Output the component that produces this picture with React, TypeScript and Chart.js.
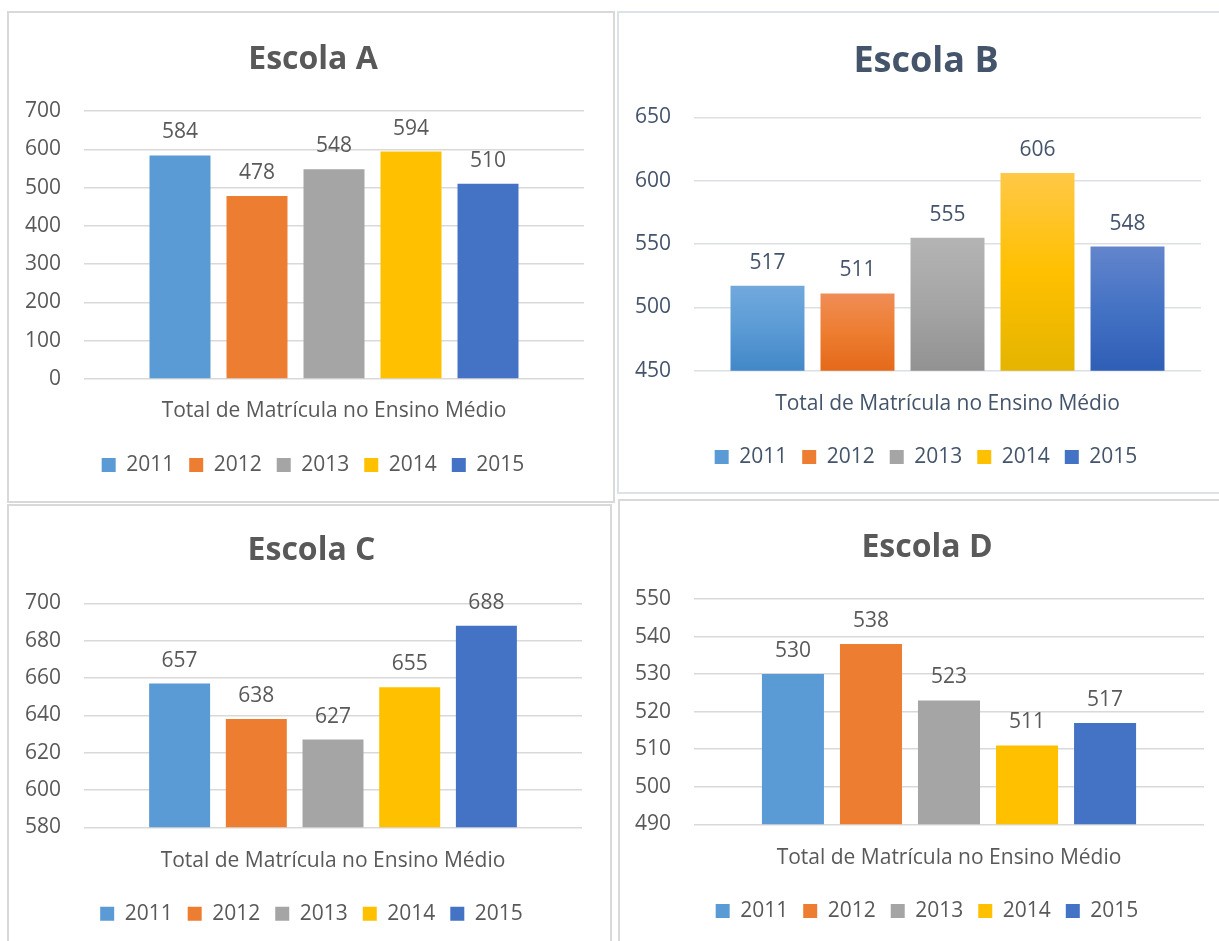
import React, { useEffect, useRef } from 'react';
import { Chart, registerables } from 'chart.js';

Chart.register(...registerables);

// ---------- data ----------
const years = ['2011', '2012', '2013', '2014', '2015'];
const categoryLabels = ['Total de Matrícula no Ensino Médio'];
const escolaA = [584, 478, 548, 594, 510];
const escolaB = [517, 511, 555, 606, 548];
const escolaC = [657, 638, 627, 655, 688];
const escolaD = [530, 538, 523, 511, 517];
const titles = ['Escola A', 'Escola B', 'Escola C', 'Escola D'];
const axisA = { min: 0, max: 700, step: 100 };
const axisB = { min: 450, max: 650, step: 50 };
const axisC = { min: 580, max: 700, step: 20 };
const axisD = { min: 490, max: 550, step: 10 };

// ---------- styles ----------
const solidColors = ['#5B9BD5', '#ED7D31', '#A5A5A5', '#FFC000', '#4472C4'];
const gradTopColors = ['#71A9DD', '#F08D56', '#B4B4B4', '#FFC847', '#6385CC'];
const gradBottomColors = ['#4287C8', '#E5691A', '#929292', '#E4B400', '#2F5EB6'];
const FONT = "'Open Sans', 'Liberation Sans', sans-serif";

type Spec = {
  left: number; top: number; width: number; height: number; borderColor: string;
  title: string; titleSize: number; titlePadTop: number; titlePadBottom: number;
  textColor: string; gridColor: string; values: number[];
  axis: { min: number; max: number; step: number };
  yAxisWidth: number; rightAxisWidth: number; padL: number; padR: number; padBottom: number;
  xAxisHeight: number; xTickPadding: number; cp: number; bp: number; gradient: boolean;
};

const specs: Spec[] = [
  {
    left: 7, top: 11, width: 608, height: 492, borderColor: '#d9d9d9',
    title: titles[0], titleSize: 32, titlePadTop: 27.6, titlePadBottom: 32,
    textColor: '#595959', gridColor: '#d9d9d9', values: escolaA, axis: axisA,
    yAxisWidth: 63, rightAxisWidth: 21, padL: 12, padR: 8, padBottom: 15.5,
    xAxisHeight: 60.5, xTickPadding: 19.4, cp: 0.77, bp: 0.792, gradient: false,
  },
  {
    left: 617, top: 11, width: 618, height: 483, borderColor: '#dde2e8',
    title: titles[1], titleSize: 36, titlePadTop: 27.4, titlePadBottom: 33.7,
    textColor: '#44546A', gridColor: '#dbe0e7', values: escolaB, axis: axisB,
    yAxisWidth: 65, rightAxisWidth: 22, padL: 10, padR: 10, padBottom: 14.5,
    xAxisHeight: 60.8, xTickPadding: 20.7, cp: 0.8876, bp: 0.822, gradient: true,
  },
  {
    left: 7, top: 504, width: 605, height: 460, borderColor: '#d9d9d9',
    title: titles[2], titleSize: 32, titlePadTop: 25.3, titlePadBottom: 33.6,
    textColor: '#595959', gridColor: '#d9d9d9', values: escolaC, axis: axisC,
    yAxisWidth: 63, rightAxisWidth: 20, padL: 12, padR: 8, padBottom: 27.8,
    xAxisHeight: 60.9, xTickPadding: 21.1, cp: 0.77, bp: 0.795, gradient: false,
  },
  {
    left: 618, top: 499, width: 618, height: 460, borderColor: '#d9d9d9',
    title: titles[3], titleSize: 32, titlePadTop: 27.3, titlePadBottom: 32.3,
    textColor: '#595959', gridColor: '#d9d9d9', values: escolaD, axis: axisD,
    yAxisWidth: 64, rightAxisWidth: 20, padL: 10, padR: 10, padBottom: 25.5,
    xAxisHeight: 61.2, xTickPadding: 21.1, cp: 0.765, bp: 0.795, gradient: false,
  },
];

const valueLabels = {
  id: 'valueLabels',
  afterDatasetsDraw(chart: any, _args: any, opts: any) {
    const ctx = chart.ctx;
    ctx.save();
    ctx.font = `21px ${FONT}`;
    ctx.fillStyle = opts.color;
    ctx.textAlign = 'center';
    ctx.textBaseline = 'middle';
    chart.data.datasets.forEach((ds: any, i: number) => {
      const meta = chart.getDatasetMeta(i);
      meta.data.forEach((el: any, j: number) => {
        ctx.fillText(String(ds.data[j]), el.x, el.y - opts.offset);
      });
    });
    ctx.restore();
  },
};

function ChartPanel({ spec }: { spec: Spec }) {
  const ref = useRef<HTMLCanvasElement | null>(null);
  const cw = spec.width - 4;
  const ch = spec.height - 4;

  useEffect(() => {
    if (!ref.current) return;
    const datasets = years.map((yr, i) => ({
      label: yr,
      data: [spec.values[i]],
      borderWidth: 0,
      backgroundColor: spec.gradient
        ? (c: any) => {
            const chart = c.chart;
            const y = chart.scales && chart.scales.y;
            if (!chart.chartArea || !y || c.raw == null) return solidColors[i];
            const top = y.getPixelForValue(c.raw);
            const bottom = y.getPixelForValue(y.min);
            if (!isFinite(top) || !isFinite(bottom) || bottom - top < 1) return solidColors[i];
            const g = chart.ctx.createLinearGradient(0, top, 0, bottom);
            g.addColorStop(0, gradTopColors[i]);
            g.addColorStop(0.5, solidColors[i]);
            g.addColorStop(1, gradBottomColors[i]);
            return g;
          }
        : solidColors[i],
    }));

    const chart = new Chart(ref.current, {
      type: 'bar',
      data: { labels: categoryLabels, datasets },
      plugins: [valueLabels],
      options: {
        responsive: false,
        animation: false,
        font: { family: FONT },
        categoryPercentage: spec.cp,
        barPercentage: spec.bp,
        layout: { padding: { top: 0, left: spec.padL, right: spec.padR, bottom: spec.padBottom } },
        plugins: {
          title: {
            display: true,
            text: spec.title,
            color: spec.textColor,
            font: { family: FONT, size: spec.titleSize, weight: 'bold' },
            padding: { top: spec.titlePadTop, bottom: spec.titlePadBottom },
          },
          legend: {
            display: true,
            position: 'bottom',
            labels: {
              boxWidth: 14,
              boxHeight: 14,
              padding: 15,
              color: spec.textColor,
              font: { family: FONT, size: 21 },
              generateLabels: (c: any) => {
                const items = Chart.defaults.plugins.legend.labels.generateLabels(c);
                return items.map((it: any, k: number) => ({
                  ...it,
                  fillStyle: solidColors[k],
                  strokeStyle: solidColors[k],
                  lineWidth: 0,
                }));
              },
            },
          },
          tooltip: { enabled: false },
          valueLabels: { color: spec.textColor, offset: 23 },
        } as any,
        scales: {
          x: {
            type: 'category',
            grid: { display: false, drawTicks: false },
            border: { display: false },
            ticks: {
              color: spec.textColor,
              font: { family: FONT, size: 21 },
              padding: spec.xTickPadding,
              maxRotation: 0,
              autoSkip: false,
            },
            afterFit: (s: any) => { s.height = spec.xAxisHeight; },
          },
          y: {
            type: 'linear',
            position: 'left',
            min: spec.axis.min,
            max: spec.axis.max,
            grid: { color: spec.gridColor, lineWidth: 1.5, drawTicks: false },
            border: { display: false },
            ticks: {
              stepSize: spec.axis.step,
              color: spec.textColor,
              font: { family: FONT, size: 21 },
              padding: 23,
            },
            afterFit: (s: any) => { s.width = spec.yAxisWidth; },
          },
          yRight: {
            type: 'linear',
            position: 'right',
            display: true,
            grid: { display: false, drawTicks: false },
            border: { display: false },
            ticks: { display: false },
            afterFit: (s: any) => { s.width = spec.rightAxisWidth; },
          },
        } as any,
      } as any,
    });
    return () => chart.destroy();
  }, [spec]);

  return (
    <div
      style={{
        position: 'absolute',
        left: spec.left,
        top: spec.top,
        width: spec.width,
        height: spec.height,
        boxSizing: 'border-box',
        border: `2px solid ${spec.borderColor}`,
        background: '#ffffff',
      }}
    >
      <canvas ref={ref} width={cw} height={ch} style={{ display: 'block', width: cw, height: ch }} />
    </div>
  );
}

export default function App() {
  return (
    <div
      style={{
        position: 'fixed',
        left: 0,
        top: 0,
        width: 1219,
        height: 941,
        overflow: 'hidden',
        background: '#ffffff',
      }}
    >
      {specs.map((s, i) => (
        <ChartPanel key={i} spec={s} />
      ))}
    </div>
  );
}
